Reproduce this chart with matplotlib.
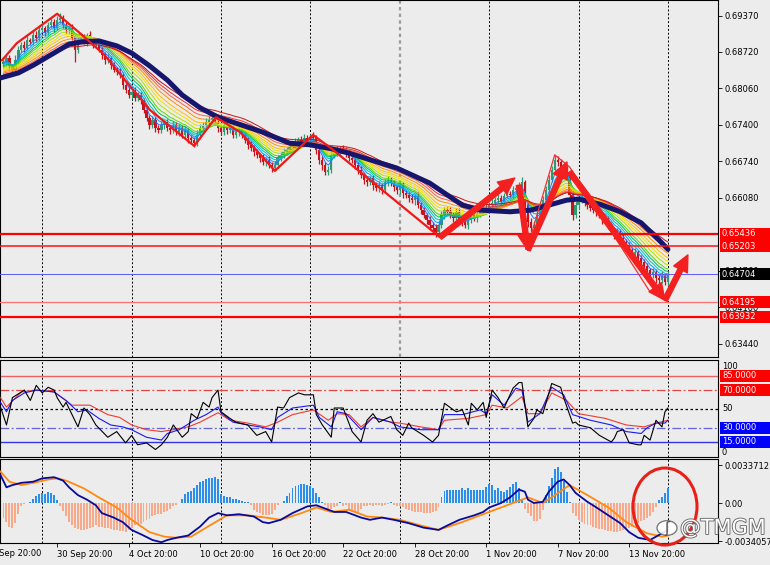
import numpy as np
import matplotlib
matplotlib.use('Agg')
import matplotlib.pyplot as plt
import matplotlib.patheffects as pe
from matplotlib.patches import Rectangle, Ellipse, Circle
from matplotlib import transforms

# ---- price data (4H bars, closes) ----
first_open = 0.6850
closes = [
    0.6854, 0.6861, 0.6847, 0.6839, 0.6857, 0.6876, 0.6885, 0.6879, 0.6894, 0.6890,
    0.6903, 0.6897, 0.6912, 0.6915, 0.6908, 0.6921, 0.6926, 0.6915, 0.6930, 0.6933,
    0.6921, 0.6912, 0.6915, 0.6897, 0.6876, 0.6894, 0.6897, 0.6890, 0.6903, 0.6894,
    0.6885, 0.6890, 0.6876, 0.6867, 0.6857, 0.6861, 0.6848, 0.6839, 0.6836, 0.6830,
    0.6812, 0.6803, 0.6794, 0.6800, 0.6789, 0.6794, 0.6785, 0.6767, 0.6753, 0.6740,
    0.6749, 0.6735, 0.6731, 0.6740, 0.6745, 0.6735, 0.6731, 0.6740, 0.6727, 0.6735,
    0.6722, 0.6731, 0.6716, 0.6713, 0.6707, 0.6722, 0.6735, 0.6740, 0.6745, 0.6749,
    0.6753, 0.6745, 0.6735, 0.6727, 0.6740, 0.6731, 0.6735, 0.6722, 0.6727, 0.6731,
    0.6722, 0.6713, 0.6704, 0.6698, 0.6691, 0.6686, 0.6680, 0.6673, 0.6677, 0.6668,
    0.6662, 0.6668, 0.6680, 0.6686, 0.6691, 0.6695, 0.6700, 0.6704, 0.6707, 0.6713,
    0.6709, 0.6716, 0.6713, 0.6718, 0.6716, 0.6695, 0.6677, 0.6668, 0.6655, 0.6659,
    0.6686, 0.6695, 0.6691, 0.6698, 0.6695, 0.6689, 0.6680, 0.6677, 0.6668, 0.6659,
    0.6650, 0.6641, 0.6637, 0.6644, 0.6631, 0.6626, 0.6631, 0.6622, 0.6637, 0.6641,
    0.6635, 0.6628, 0.6622, 0.6631, 0.6617, 0.6613, 0.6608, 0.6604, 0.6612, 0.6595,
    0.6586, 0.6577, 0.6568, 0.6559, 0.6554, 0.6547, 0.6559, 0.6577, 0.6586, 0.6583,
    0.6577, 0.6572, 0.6583, 0.6568, 0.6565, 0.6559, 0.6568, 0.6577, 0.6572, 0.6579,
    0.6583, 0.6586, 0.6590, 0.6595, 0.6599, 0.6604, 0.6608, 0.6601, 0.6612, 0.6615,
    0.6613, 0.6622, 0.6626, 0.6631, 0.6637, 0.6595, 0.6565, 0.6554, 0.6559, 0.6577,
    0.6586, 0.6604, 0.6622, 0.6641, 0.6659, 0.6677, 0.6673, 0.6662, 0.6659, 0.6650,
    0.6613, 0.6577, 0.6595, 0.6604, 0.6608, 0.6599, 0.6595, 0.6590, 0.6586, 0.6583,
    0.6577, 0.6568, 0.6572, 0.6559, 0.6550, 0.6541, 0.6547, 0.6536, 0.6528, 0.6523,
    0.6514, 0.6505, 0.6510, 0.6499, 0.6492, 0.6485, 0.6478, 0.6469, 0.6474, 0.6463,
    0.6460, 0.6467, 0.6456, 0.6470,
]
# wick sizes above / below the body, in pips
wick_up = [
    8, 5, 6, 4, 9, 7, 5, 6, 8, 4, 9, 6, 5, 7, 4, 6, 8, 5, 7, 9,
    5, 6, 4, 7, 3, 6, 5, 8, 4, 6, 5, 7, 4, 6, 5, 8, 4, 6, 5, 7,
    6, 5, 7, 4, 8, 5, 6, 4, 7, 5, 8, 6, 5, 7, 4, 6, 5, 8, 5, 6,
    5, 7, 4, 6, 5, 8, 6, 5, 7, 9, 6, 5, 7, 4, 6, 5, 8, 6, 5, 7,
    4, 6, 5, 7, 5, 6, 4, 7, 5, 6, 5, 7, 6, 5, 8, 6, 5, 7, 9, 6,
    7, 8, 5, 6, 9, 5, 4, 6, 5, 7, 6, 5, 7, 4, 6, 5, 7, 4, 6, 5,
    6, 5, 7, 4, 6, 5, 8, 4, 6, 7, 5, 6, 4, 7, 5, 6, 5, 7, 4, 6,
    5, 6, 4, 7, 5, 6, 9, 7, 5, 6, 8, 5, 7, 6, 5, 7, 6, 8, 5, 7,
    6, 5, 7, 6, 8, 5, 7, 6, 5, 8, 6, 7, 5, 6, 8, 4, 5, 6, 7, 8,
    6, 7, 8, 9, 7, 9, 6, 5, 7, 6, 5, 8, 7, 6, 5, 7, 6, 5, 7, 6,
    5, 6, 7, 4, 6, 5, 7, 4, 6, 5, 6, 5, 7, 4, 6, 5, 6, 4, 7, 5,
    6, 8, 5, 6,
]
wick_dn = [
    6, 8, 5, 7, 4, 6, 5, 7, 4, 6, 5, 7, 6, 4, 8, 5, 6, 7, 4, 5,
    6, 5, 7, 4, 22, 6, 5, 4, 7, 5, 6, 4, 5, 7, 6, 5, 7, 4, 6, 5,
    7, 5, 6, 8, 5, 6, 7, 5, 6, 8, 5, 7, 6, 5, 7, 6, 8, 5, 6, 7,
    5, 6, 8, 7, 6, 5, 7, 4, 6, 5, 6, 5, 7, 6, 5, 7, 6, 5, 6, 7,
    5, 6, 7, 6, 8, 6, 7, 5, 8, 6, 7, 6, 5, 6, 5, 6, 5, 4, 6, 5,
    5, 6, 4, 5, 6, 7, 8, 9, 6, 5, 6, 5, 7, 6, 5, 7, 6, 5, 8, 7,
    6, 8, 7, 5, 8, 6, 7, 6, 5, 7, 6, 8, 7, 6, 9, 6, 7, 5, 8, 6,
    7, 6, 8, 7, 6, 9, 6, 5, 7, 6, 5, 7, 6, 5, 8, 6, 7, 5, 6, 7,
    6, 5, 7, 6, 5, 6, 5, 7, 6, 5, 6, 5, 7, 6, 5, 8, 9, 7, 6, 7,
    6, 5, 6, 5, 4, 6, 7, 5, 6, 7, 8, 9, 6, 7, 5, 6, 7, 6, 5, 7,
    6, 7, 5, 8, 6, 7, 6, 8, 7, 6, 7, 6, 8, 7, 6, 9, 7, 8, 6, 8,
    7, 6, 5, 5,
]

# thick navy moving average, sampled along the chart
navy_idx = [-1, 5, 10, 16, 22, 26, 32, 38, 43, 49, 55, 60, 66, 72, 77, 87, 96, 103,
            110, 116, 123, 132, 143, 154, 160, 170, 177, 183, 189, 193, 200, 207, 214, 220, 223]
navy_val = [0.6825, 0.6834, 0.6848, 0.6867, 0.6886, 0.6890, 0.6892, 0.6883, 0.6870, 0.6847,
            0.6821, 0.6794, 0.6771, 0.6754, 0.6745, 0.6727, 0.6707, 0.6704, 0.6697, 0.6689,
            0.6677, 0.6662, 0.6635, 0.6595, 0.6586, 0.6583, 0.6586, 0.6595, 0.6604, 0.6606,
            0.6597, 0.6583, 0.6563, 0.6532, 0.6515]
ribbon_periods = [4, 6, 8, 10, 12, 15, 18, 21, 25, 29, 33, 38]
ribbon_colors = ['#3070FF', '#00A0FF', '#00C8C8', '#00C060', '#60D800', '#B0E000',
                 '#F0E000', '#FFC000', '#FF9000', '#FF6040', '#F03030', '#C01818']

# manual drawings
zigzag_idx = [-0.5, 4.5, 18, 26.3, 34, 40.8, 49.2, 64, 71.3, 79.4, 91.1, 103.9, 110.6, 146.5]
zigzag_val = [0.6857, 0.6888, 0.6941, 0.6903, 0.6866, 0.6821, 0.6767, 0.6702, 0.6754,
              0.6727, 0.6657, 0.6722, 0.6695, 0.6537]
thin_idx = [177.4, 185, 190, 217]
thin_val = [0.6547, 0.6686, 0.6664, 0.6438]
arrow_x0 = [146.5, 173, 176, 190, 222]
arrow_y0 = [0.6537, 0.6631, 0.6514, 0.6655, 0.6423]
arrow_x1 = [171.6, 176, 189.1, 222, 229.7]
arrow_y1 = [0.6644, 0.6513, 0.6673, 0.6423, 0.6505]

# 0.6542 is hidden behind the 0.65436 box in the reference, so it is left out
price_ticks = [0.6937, 0.6872, 0.6806, 0.6740, 0.6674, 0.6608, 0.6476, 0.6410, 0.6344]
levels = [0.65436, 0.65203, 0.64704, 0.64195, 0.63932]
level_colors = ['#FF0000', '#FF1010', '#5A5AFF', '#FF7070', '#FF0000']
level_widths = [1.6, 1.1, 0.7, 0.9, 1.6]
level_box = ['#FF0000', '#FF0000', '#000000', '#FF0000', '#FF0000']

# oscillator panel (three lines)
rsi_black_idx = [-1, 1, 3, 7, 9, 11, 13, 15, 17, 18, 20, 21, 25, 27, 29, 31, 35, 38, 41, 43,
                 45, 48, 51, 53, 55, 57, 60, 62, 63, 65, 67, 69, 70, 72, 73, 76, 78, 82, 85, 88,
                 90, 92, 94, 96, 99, 101, 104, 105, 107, 110, 111, 114, 117, 120, 122, 124, 126,
                 130, 132, 134, 136, 137, 141, 144, 146, 148, 151, 152, 154, 156, 157, 159, 161,
                 162, 164, 166, 168, 171, 173, 174, 176, 178, 179, 181, 184, 187, 188, 191, 192,
                 193, 197, 200, 204, 205, 206, 208, 210, 213, 214, 215, 217, 219, 221, 222, 223]
rsi_black_val = [52, 33, 62, 70, 59, 75, 67, 73, 70, 62, 52, 57, 31, 51, 44, 33, 20, 26, 14, 22,
                 12, 14, 7, 12, 20, 33, 20, 26, 45, 40, 57, 52, 62, 70, 47, 40, 36, 33, 22, 26,
                 15, 52, 51, 62, 67, 65, 65, 44, 33, 20, 51, 51, 26, 15, 38, 45, 36,
                 42, 28, 22, 35, 30, 22, 15, 22, 56, 49, 47, 49, 33, 56, 49, 57,
                 41, 70, 62, 51, 72, 78, 78, 31, 40, 49, 45, 77, 73, 62, 35, 36,
                 33, 30, 22, 15, 19, 26, 28, 14, 12, 12, 22, 17, 38, 31, 47, 51]
rsi_blue_idx = [-1, 1, 3, 7, 11, 17, 21, 25, 28, 32, 36, 40, 43, 48, 53, 55, 59, 64, 68, 72,
                73, 77, 82, 86, 90, 92, 97, 104, 106, 110, 112, 115, 120, 124, 130, 133, 140,
                146, 148, 154, 160, 162, 164, 168, 172, 174, 176, 180, 184, 188, 191, 197, 204,
                209, 214, 216, 219, 222, 223]
rsi_blue_val = [57, 47, 59, 67, 70, 68, 59, 47, 49, 40, 33, 31, 28, 20, 17, 24, 28, 38, 44, 52,
                46, 36, 33, 31, 28, 41, 51, 54, 41, 31, 47, 45, 28, 41, 36, 31, 28,
                28, 44, 44, 49, 45, 65, 54, 72, 70, 36, 45, 73, 65, 44, 38, 33,
                26, 24, 30, 35, 35, 38]
rsi_red_idx = [-1, 1, 6, 11, 17, 23, 29, 35, 39, 43, 48, 53, 57, 62, 66, 72, 76, 82, 88, 92,
               97, 104, 109, 112, 116, 120, 124, 130, 133, 140, 146, 148, 156, 162, 164, 169,
               174, 176, 180, 184, 189, 193, 202, 209, 215, 219, 223]
rsi_red_val = [62, 52, 68, 70, 68, 54, 54, 44, 41, 33, 28, 26, 28, 31, 36, 46, 38, 35, 31, 36,
               44, 49, 38, 45, 44, 31, 41, 36, 35, 31, 28, 38, 40, 44, 54, 51,
               63, 45, 45, 67, 59, 45, 40, 33, 31, 35, 38]
rsi_levels = [85, 70, 50, 30, 15]

# MACD panel, values in units of 1e-4
hist = [
    -13, -17, -21, -22, -18, -10, -3, -1, 0, 1,
    4, 6, 8, 9, 8, 10, 9, 7, 3, -3,
    -7, -12, -17, -20, -22, -23, -24, -24, -23, -22,
    -21, -20, -21, -21, -22, -22, -23, -24, -24, -25,
    -25, -26, -24, -22, -20, -19, -19, -17, -15, -14,
    -12, -11, -10, -10, -8, -7, -5, -3, -2, 0,
    4, 8, 10, 11, 13, 16, 19, 20, 21, 22,
    22, 23, 21, 8, 6, 5, 5, 4, 4, 3,
    2, 1, 1, -2, -6, -8, -9, -11, -11, -11,
    -10, -6, -2, 0, 2, 6, 9, 13, 15, 16,
    17, 17, 16, 15, 13, 9, 5, 1, -2, -6,
    -5, -4, -3, 1, -3, -2, -5, -8, -9, -8,
    -5, -3, -3, -2, -3, -2, -2, -3, -2, -1,
    1, -2, -3, -3, -4, -5, -6, -7, -8, -8,
    -8, -9, -9, -9, -8, -7, -4, 5, 11, 12,
    12, 12, 12, 12, 13, 12, 13, 12, 12, 12,
    12, 12, 14, 17, 16, 12, 13, 11, 10, 12,
    14, 17, 19, 13, 3, -5, -9, -12, -16, -16,
    -14, -6, 7, 15, 22, 30, 32, 28, 20, 10,
    1, -9, -12, -15, -17, -19, -20, -20, -21, -22,
    -23, -23, -24, -25, -25, -26, -26, -25, -24, -23,
    -22, -21, -19, -18, -16, -15, -13, -12, -8, -4,
    3, 5, 9, 13,
]
macd_idx = [-1, 1, 3, 6, 10, 13, 17, 20, 22, 25, 28, 31, 33, 37, 40, 43, 47, 50, 53, 55, 58,
            62, 66, 69, 72, 75, 79, 84, 87, 89, 93, 97, 102, 105, 107, 111, 115, 120, 123,
            127, 131, 136, 141, 146, 149, 153, 158, 161, 163, 167, 170, 173, 175, 176, 178,
            181, 183, 186, 188, 190, 192, 196, 199, 203, 207, 210, 213, 217, 219, 221, 223]
macd_val = [25, 14, 16, 18, 19, 22, 23, 20, 14, 7, 3, -2, -9, -13, -17, -24, -29, -33, -35,
            -33, -31, -29, -21, -13, -9, -11, -10, -12, -17, -18, -15, -9, -3, -2, -4, -8,
            -8, -13, -15, -13, -15, -18, -22, -24, -20, -15, -11, -8, -4, 0, 5, 12, 10, 3,
            0, 1, 10, 19, 21, 16, 9, 1, -4, -11, -18, -26, -31, -33, -30, -27, -24]
signal_idx = [-1, 2, 6, 10, 15, 18, 21, 27, 32, 38, 43, 49, 54, 58, 63, 68, 75, 82, 88, 93,
              100, 105, 110, 116, 122, 127, 133, 140, 146, 154, 162, 169, 176, 181, 184,
              190, 196, 203, 209, 216, 221, 223]
signal_val = [28, 19, 16, 18, 21, 22, 20, 13, 5, -4, -15, -26, -30, -31, -30, -22, -11, -11,
              -13, -15, -9, -4, -8, -6, -12, -13, -15, -20, -24, -17, -9, -2, 5, 0, 5,
              16, 7, -4, -17, -27, -30, -29]

time_labels = ['24 Sep 20:00', '30 Sep 20:00', '4 Oct 20:00', '10 Oct 20:00', '16 Oct 20:00',
               '22 Oct 20:00', '28 Oct 20:00', '1 Nov 20:00', '7 Nov 20:00', '13 Nov 20:00']
time_idx = [-6, 18, 42, 66, 90, 114, 138, 162, 186, 210]
grid_idx = [13, 43, 73, 103, 133, 163, 193, 223]

# ---- figure layout in pixels ----
W, H = 770, 565
BG = '#ECECEC'
fig = plt.figure(figsize=(W / 100, H / 100), dpi=100)
fig.patch.set_facecolor(BG)


def panel(top, bottom):
    a = fig.add_axes([0, 1 - bottom / H, 718 / W, (bottom - top) / H])
    a.set_facecolor(BG)
    a.set_xlim(-1.17, 239.8)
    for s in a.spines.values():
        s.set_color('black')
        s.set_linewidth(0.8)
    a.set_xticks([])
    return a


ax = panel(0, 357)
ax_rsi = panel(360, 457)
ax_macd = panel(459, 543)

ax.set_ylim(0.63204, 0.69659)
ax_rsi.set_ylim(-0.95, 101.9)
ax_macd.set_ylim(-0.003568, 0.003925)

n = len(closes)
x = np.arange(n)
c = np.array(closes)
o = np.array([first_open] + closes[:-1])
hi = np.maximum(o, c) + np.array(wick_up) * 1e-4
lo = np.minimum(o, c) - np.array(wick_dn) * 1e-4
up = c >= o
col = np.where(up, '#2E9A72', '#C8121C')

# vertical grid
for a in (ax, ax_rsi, ax_macd):
    for g in grid_idx:
        if a is ax and g == 133:
            a.axvline(g, color='#9A9A9A', lw=1.6, ls=(0, (1.5, 1.5)), zorder=1)
        else:
            a.axvline(g, color='black', lw=0.7, ls=(0, (2, 2)), zorder=1)

# candles
ax.vlines(x, lo, hi, colors=col, lw=0.9, zorder=2)
ax.bar(x, np.maximum(np.abs(c - o), 0.00005), bottom=np.minimum(o, c), width=0.75,
       color=col, zorder=2)

# rainbow ribbon
for k, (p, rc) in enumerate(zip(ribbon_periods, ribbon_colors)):
    alpha = 2.0 / (p + 1)
    prev = closes[0] + (navy_val[0] - closes[0]) * (k + 1) / (len(ribbon_periods) + 1)
    line = []
    for v in closes:
        prev = prev + alpha * (v - prev)
        line.append(prev)
    ax.plot(x, line, color=rc, lw=0.7, zorder=3)
ax.plot(navy_idx, navy_val, color='#16166E', lw=3.6, solid_capstyle='round', zorder=4)

# horizontal levels
for lv, lc, lw in zip(levels, level_colors, level_widths):
    ax.axhline(lv, color=lc, lw=lw, zorder=5)

# drawings
ax.plot(zigzag_idx, zigzag_val, color='#F01818', lw=1.6, zorder=6)
ax.plot(thin_idx, thin_val, color='#F03030', lw=0.9, zorder=6)
for x0, y0, x1, y1 in zip(arrow_x0, arrow_y0, arrow_x1, arrow_y1):
    ax.annotate('', xy=(x1, y1), xytext=(x0, y0),
                arrowprops=dict(arrowstyle='simple,head_length=0.9,head_width=0.85,tail_width=0.28',
                                color='#F42020', mutation_scale=13, shrinkA=0, shrinkB=0),
                annotation_clip=False, zorder=7)

# price scale
ax.yaxis.tick_right()
ax.set_yticks(price_ticks)
ax.set_yticklabels(['%.5f' % t for t in price_ticks])
ax.tick_params(axis='y', labelsize=6, length=3, pad=2, width=0.6)
tr = ax.get_yaxis_transform()
bh = 12 * (0.69659 - 0.63204) / 357
for lv, bc in zip(levels, level_box):
    ax.add_patch(Rectangle((720 / 718, lv - bh / 2), 50 / 718, bh, transform=tr, fc=bc,
                           ec='none', clip_on=False, zorder=10))
    ax.text(722 / 718, lv, '%.5f' % lv, transform=tr, color='white', fontsize=6,
            va='center', ha='left', clip_on=False, zorder=11)

# oscillator panel
rsi_cols = ['#F06060', '#E04848', 'black', '#6464D8', '#3434E8']
rsi_ls = ['-', (0, (7, 2, 1.5, 2)), (0, (2, 2)), (0, (7, 2, 1.5, 2)), '-']
for lv, lc, ls in zip(rsi_levels, rsi_cols, rsi_ls):
    ax_rsi.axhline(lv, color=lc, lw=0.9 if ls != '-' else 1.0, ls=ls, zorder=1)
ax_rsi.plot(rsi_red_idx, rsi_red_val, color='#F03A30', lw=0.8, zorder=3)
ax_rsi.plot(rsi_blue_idx, rsi_blue_val, color='#1A1AF0', lw=0.8, zorder=3)
ax_rsi.plot(rsi_black_idx, rsi_black_val, color='black', lw=0.8, zorder=3)
ax_rsi.set_yticks([])
tr2 = ax_rsi.get_yaxis_transform()
rh = 12 / 0.943
for lv, bc in zip(rsi_levels, ['#FF0000', '#FF0000', None, '#0000FF', '#0000FF']):
    if bc is None:
        continue
    ax_rsi.add_patch(Rectangle((720 / 718, lv - rh / 2), 50 / 718, rh, transform=tr2, fc=bc,
                               ec='none', clip_on=False, zorder=10))
    ax_rsi.text(722 / 718, lv, '%.4f' % lv, transform=tr2, color='white', fontsize=6,
                va='center', ha='left', clip_on=False, zorder=11)
for txt, yv in [('100', 94.5), ('50', 51), ('0', 4.3)]:
    ax_rsi.text(722 / 718, yv, txt, transform=tr2, fontsize=6, va='center', ha='left',
                clip_on=False)

# MACD panel
hv = np.array(hist) * 1e-4
ax_macd.bar(np.arange(len(hist)), hv, width=0.65,
            color=np.where(hv >= 0, '#2A8EEA', '#F7A98A'), zorder=2)
ax_macd.plot(signal_idx, np.array(signal_val) * 1e-4, color='#FF8A10', lw=1.3, zorder=3)
ax_macd.plot(macd_idx, np.array(macd_val) * 1e-4, color='#0A0A9A', lw=1.3, zorder=4)
ax_macd.yaxis.tick_right()
ax_macd.set_yticks([0.0033712, 0.0, -0.0034057])
ax_macd.set_yticklabels(['0.0033712', '0.00', '-0.0034057'])
ax_macd.tick_params(axis='y', labelsize=6, length=3, pad=2, width=0.6)

# time axis
ax_macd.set_xticks(time_idx[1:])
ax_macd.set_xticklabels(time_labels[1:], ha='left')
ax_macd.tick_params(axis='x', labelsize=6, length=3, pad=2, width=0.6)
ax_macd.text(time_idx[0], -0.07, time_labels[0], fontsize=6, ha='left', va='top',
             transform=transforms.blended_transform_factory(ax_macd.transData, ax_macd.transAxes),
             clip_on=False)

# annotation circle and watermark
fig.add_artist(Ellipse((665 / W, 1 - 506.5 / H), 64 / W, 77 / H, transform=fig.transFigure,
                       fill=False, ec='#E8201A', lw=2.2))
fig.add_artist(Circle((667 / W, 1 - 528 / H), 10 / W, transform=fig.transFigure,
                      fc='white', ec='#707070', lw=1.0, alpha=0.9))
fig.text(667 / W, 1 - 528 / H, 'ʃ', fontsize=11, color='#505050', ha='center', va='center')
fig.text(680 / W, 1 - 528 / H, '@TMGM', fontsize=15, color='white', ha='left', va='center',
         path_effects=[pe.withStroke(linewidth=1.3, foreground='#6A6A6A')])

fig.savefig('out.png', dpi=100, facecolor=BG)
